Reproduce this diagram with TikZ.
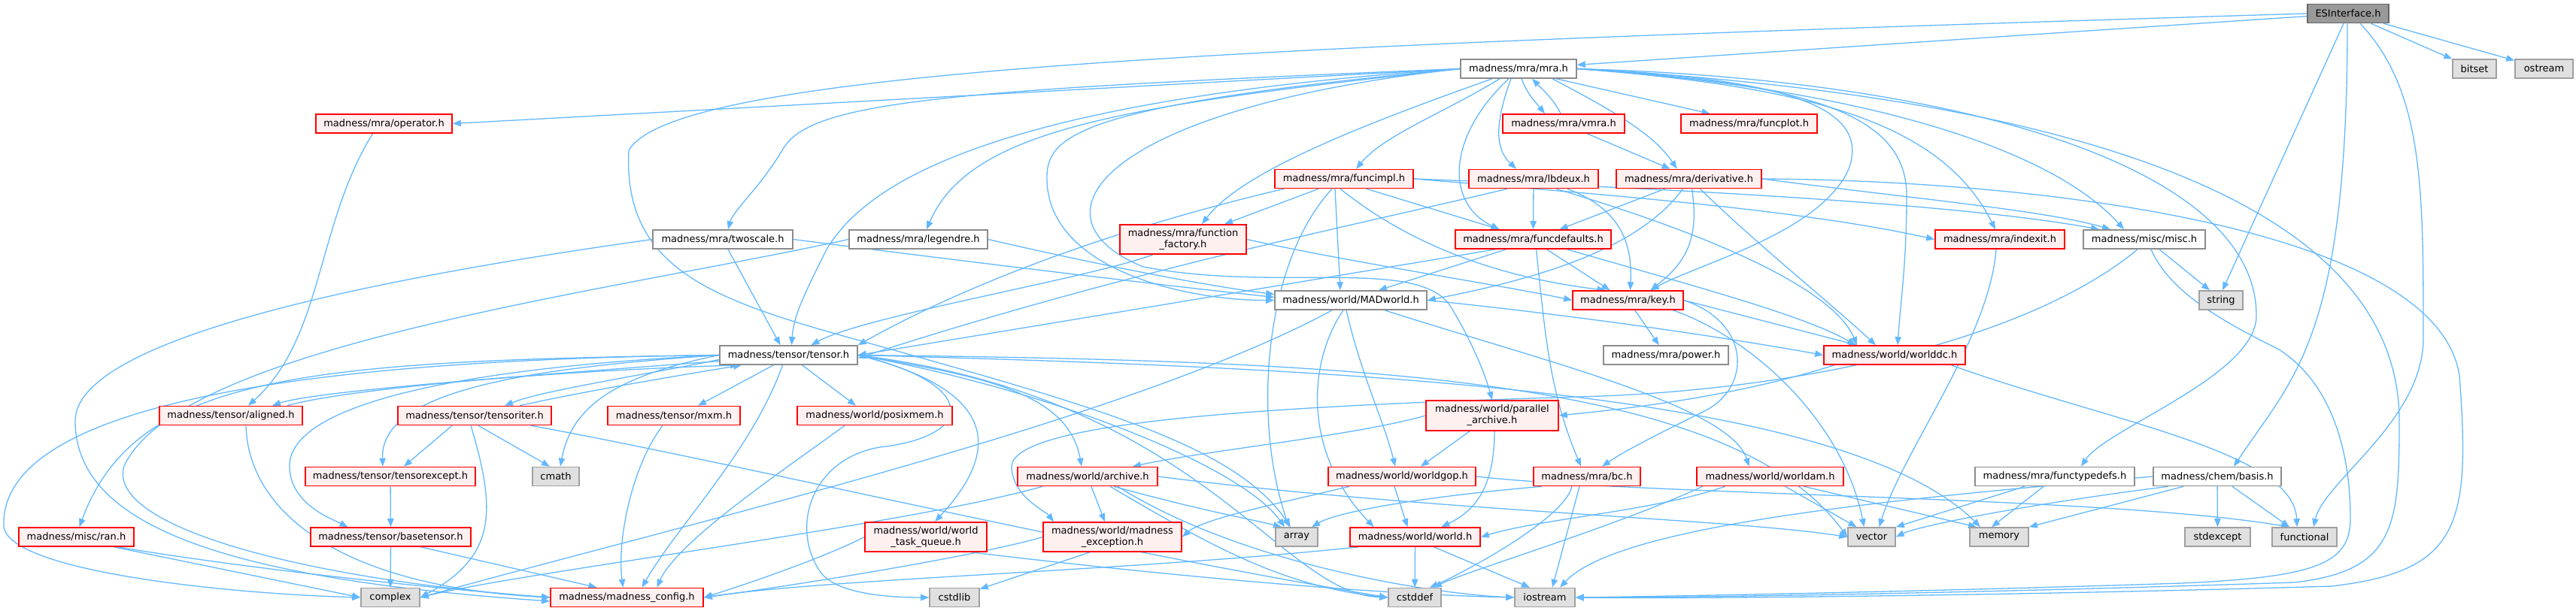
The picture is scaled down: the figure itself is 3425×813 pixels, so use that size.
\documentclass[tikz,border=0pt]{standalone}
\usepackage{fontspec}
\setmainfont{DejaVu Sans}
\usetikzlibrary{arrows.meta}
\pgfdeclarelayer{edgelayer}
\pgfsetlayers{edgelayer,main}
\definecolor{edgeblue}{RGB}{99,184,255}
\definecolor{redfill}{HTML}{FFF0F0}
\definecolor{grayfill}{HTML}{E0E0E0}
\definecolor{rootfill}{HTML}{999999}
\definecolor{graybord}{HTML}{8C8C8C}
\definecolor{rootbord}{HTML}{666666}
\definecolor{lightbord}{HTML}{A0A0A0}
\tikzset{
  box/.style={draw, rectangle, inner sep=0pt, minimum height=25pt, line width=1.6pt, align=center,
    font=\fontsize{13}{15}\selectfont},
  rbox/.style={box, draw=red, fill=redfill},
  wbox/.style={box, draw=graybord, fill=white},
  gbox/.style={box, draw=lightbord, fill=grayfill},
  root/.style={box, draw=rootbord, fill=rootfill},
  e/.style={draw=edgeblue, line width=1.3pt, -{Triangle[length=11pt,width=8.5pt]}},
}
\begin{document}
\begin{tikzpicture}[x=1pt,y=-1pt]
\useasboundingbox (0,0) rectangle (3425,813);
% ---------- nodes ----------
\node[root, minimum width=108] (ESI) at (3122,18) {ESInterface.h};
\node[wbox, minimum width=154] (mra) at (2019,91.5) {madness/mra/mra.h};
\node[gbox, minimum width=58] (bitset) at (3290,91.5) {bitset};
\node[gbox, minimum width=77] (ostream) at (3382.5,91.5) {ostream};
\node[rbox, minimum width=181] (operator) at (510.5,164.5) {madness/mra/operator.h};
\node[rbox, minimum width=162] (vmra) at (2079,164.5) {madness/mra/vmra.h};
\node[rbox, minimum width=181] (funcplot) at (2325.5,164.5) {madness/mra/funcplot.h};
\node[rbox, minimum width=184] (funcimpl) at (1787,238) {madness/mra/funcimpl.h};
\node[rbox, minimum width=172] (lbdeux) at (2039,238) {madness/mra/lbdeux.h};
\node[rbox, minimum width=193] (deriv) at (2245.5,238) {madness/mra/derivative.h};
\node[wbox, minimum width=186] (twoscale) at (961,318.5) {madness/mra/twoscale.h};
\node[wbox, minimum width=184] (legendre) at (1221,318.5) {madness/mra/legendre.h};
\node[rbox, minimum width=168, minimum height=39] (ffac) at (1573,318.5) {madness/mra/function\\\_factory.h};
\node[rbox, minimum width=207] (fdef) at (2038.5,318.5) {madness/mra/funcdefaults.h};
\node[rbox, minimum width=172] (indexit) at (2659,318.5) {madness/mra/indexit.h};
\node[wbox, minimum width=162] (misc) at (2851,318.5) {madness/misc/misc.h};
\node[wbox, minimum width=202] (madw) at (1796,399.5) {madness/world/MADworld.h};
\node[rbox, minimum width=147] (key) at (2164.5,399.5) {madness/mra/key.h};
\node[gbox, minimum width=58] (string) at (2953,399.5) {string};
\node[wbox, minimum width=183] (tensor) at (1048.5,472.5) {madness/tensor/tensor.h};
\node[wbox, minimum width=166] (power) at (2215,472.5) {madness/mra/power.h};
\node[rbox, minimum width=188] (worlddc) at (2519,472.5) {madness/world/worlddc.h};
\node[rbox, minimum width=190] (aligned) at (307,553) {madness/tensor/aligned.h};
\node[rbox, minimum width=204] (titer) at (631,553) {madness/tensor/tensoriter.h};
\node[rbox, minimum width=176] (mxm) at (896,553) {madness/tensor/mxm.h};
\node[rbox, minimum width=206] (posix) at (1163,553) {madness/world/posixmem.h};
\node[rbox, minimum width=176, minimum height=40] (parch) at (1984,553) {madness/world/parallel\\\_archive.h};
\node[rbox, minimum width=226] (texc) at (519,634) {madness/tensor/tensorexcept.h};
\node[gbox, minimum width=62] (cmath) at (739,634) {cmath};
\node[rbox, minimum width=186] (archive) at (1446,634) {madness/world/archive.h};
\node[rbox, minimum width=196] (wgop) at (1864,634) {madness/world/worldgop.h};
\node[rbox, minimum width=142] (bc) at (2110,634) {madness/mra/bc.h};
\node[rbox, minimum width=195] (worldam) at (2353.5,634) {madness/world/worldam.h};
\node[wbox, minimum width=212] (ftd) at (2732,634) {madness/mra/functypedefs.h};
\node[wbox, minimum width=170] (basis) at (2948,634) {madness/chem/basis.h};
\node[rbox, minimum width=153] (ran) at (101.5,714.5) {madness/misc/ran.h};
\node[rbox, minimum width=213] (btensor) at (519.5,714.5) {madness/tensor/basetensor.h};
\node[rbox, minimum width=162, minimum height=39] (wtq) at (1231,714.5) {madness/world/world\\\_task\_queue.h};
\node[rbox, minimum width=184, minimum height=39] (mexc) at (1479,714.5) {madness/world/madness\\\_exception.h};
\node[gbox, minimum width=56] (array) at (1724,714.5) {array};
\node[rbox, minimum width=173] (world) at (1881.5,714.5) {madness/world/world.h};
\node[gbox, minimum width=63] (vector) at (2488.5,714.5) {vector};
\node[gbox, minimum width=78] (memory) at (2658,714.5) {memory};
\node[gbox, minimum width=87] (stdexcept) at (2948.5,714.5) {stdexcept};
\node[gbox, minimum width=86] (functional) at (3064,714.5) {functional};
\node[gbox, minimum width=78] (complex) at (519,795) {complex};
\node[rbox, minimum width=203] (config) at (833.5,795) {madness/madness\_config.h};
\node[gbox, minimum width=66] (cstdlib) at (1269,795) {cstdlib};
\node[gbox, minimum width=70] (cstddef) at (1881,795) {cstddef};
\node[gbox, minimum width=80] (iostream) at (2054,795) {iostream};
% ---------- edges ----------
\begin{pgfonlayer}{edgelayer}
% ESInterface
\draw[e] (ESI) -- (mra);
\draw[e] (ESI) -- (bitset);
\draw[e] (ESI) -- (ostream);
\draw[e] ([xshift=-6]ESI.south) -- ([xshift=2]string.north);
\draw[e] (ESI.west) .. controls (1700,60) and (900,90) .. (836,200) .. controls (828,360) and (950,400) .. (1150,455) .. controls (1450,540) and (1640,590) .. ([xshift=-8]array.north);
\draw[e] ([xshift=-1]ESI.south) .. controls (3121,450) and (3050,500) .. ([xshift=22]basis.north);
\draw[e] ([xshift=16]ESI.south) .. controls (3222,120) and (3222,250) .. (3222,450) .. controls (3222,560) and (3090,640) .. ([xshift=12]functional.north);
% mra
\draw[e] (mra.west) -- (operator.east);
\draw[e] (mra.west) .. controls (1250,120) and (1075,135) .. (1040,200) .. controls (1010,250) and (975,280) .. ([xshift=7]twoscale.north);
\draw[e] (mra.west) .. controls (1500,140) and (1290,170) .. ([xshift=11]legendre.north);
\draw[e] (mra.west) .. controls (1300,135) and (1150,250) .. (1100,330) .. controls (1070,390) and (1055,420) .. ([xshift=4]tensor.north);
\draw[e] (mra.west) .. controls (1430,140) and (1390,180) .. (1392,240) .. controls (1395,360) and (1580,400) .. (madw.west);
\draw[e] (mra.west) .. controls (1460,145) and (1360,290) .. (1520,355) .. controls (1700,390) and (1890,340) .. (1930,410) .. controls (1960,460) and (1975,500) .. (parch.north);
\draw[e] ([xshift=-35]mra.south) .. controls (1800,170) and (1650,230) .. ([xshift=25]ffac.north);
\draw[e] ([xshift=-25]mra.south) .. controls (1920,150) and (1840,180) .. ([xshift=16]funcimpl.north);
\draw[e] ([xshift=-13]mra.south) .. controls (1925,180) and (1920,270) .. ([xshift=-45]fdef.north);
\draw[e] ([xshift=-10]mra.south) .. controls (1985,170) and (1990,200) .. ([xshift=-23]lbdeux.north);
\draw[e] ([xshift=4]mra.south) .. controls (2030,125) and (2045,140) .. ([xshift=-25]vmra.north);
\draw[e] ([xshift=-4]vmra.north) .. controls (2068,135) and (2050,118) .. ([xshift=18]mra.south);
\draw[e] ([xshift=45]mra.south) .. controls (2150,150) and (2200,180) .. ([xshift=-16]deriv.north);
\draw[e] ([xshift=50]mra.south) -- ([xshift=-52]funcplot.north);
\draw[e] (mra.east) .. controls (2400,105) and (2485,150) .. (2458,225) .. controls (2420,310) and (2260,350) .. ([xshift=30]key.north);
\draw[e] (mra.east) .. controls (2400,110) and (2535,150) .. (2535,260) .. controls (2535,350) and (2527,400) .. ([xshift=4]worlddc.north);
\draw[e] (mra.east) .. controls (2400,115) and (2580,160) .. ([xshift=-6]indexit.north);
\draw[e] (mra.east) .. controls (2450,115) and (2720,190) .. ([xshift=-27]misc.north);
\draw[e] (mra.east) .. controls (2600,105) and (3000,220) .. (3000,420) .. controls (3000,500) and (2800,570) .. ([xshift=35]ftd.north);
\draw[e] (mra.east) .. controls (2700,125) and (3190,250) .. (3190,560) .. controls (3190,700) and (3185,760) .. (3050,775) .. controls (2600,790) and (2250,795) .. (iostream.east);
\draw[e] (vmra) -- ([xshift=-25]deriv.north);
% funcimpl
\draw[e] ([xshift=-34]funcimpl.south) -- ([xshift=55]ffac.north);
\draw[e] ([xshift=-80]funcimpl.south) .. controls (1500,300) and (1300,370) .. (tensor.north east);
\draw[e] ([xshift=-16]funcimpl.south) .. controls (1680,350) and (1665,560) .. ([xshift=-10]array.north);
\draw[e] ([xshift=-12]funcimpl.south) -- ([xshift=-14]madw.north);
\draw[e] ([xshift=30]funcimpl.south) -- ([xshift=-45]fdef.north);
\draw[e] ([xshift=-5]funcimpl.south) .. controls (1880,330) and (2000,370) .. ([xshift=-30]key.north);
\draw[e] (funcimpl.east) .. controls (2150,260) and (2400,280) .. (indexit.west);
\draw[e] (funcimpl.east) .. controls (2200,250) and (2600,270) .. ([xshift=-60]misc.north);
% lbdeux
\draw[e] (lbdeux) -- (fdef);
\draw[e] ([xshift=45]lbdeux.south) .. controls (2160,280) and (2170,330) .. ([xshift=3]key.north);
\draw[e] ([xshift=-35]lbdeux.south) .. controls (1800,300) and (1500,360) .. ([yshift=-4]tensor.east);
\draw[e] ([xshift=30]lbdeux.south) .. controls (2300,320) and (2440,390) .. ([xshift=-50]worlddc.north);
% derivative
\draw[e] ([xshift=-32]deriv.south) -- ([xshift=35]fdef.north);
\draw[e] ([xshift=-8]deriv.south) .. controls (2180,330) and (2050,370) .. (madw.east);
\draw[e] ([xshift=4]deriv.south) .. controls (2260,320) and (2240,350) .. ([xshift=30]key.north);
\draw[e] ([xshift=15]deriv.south) .. controls (2330,320) and (2430,400) .. ([xshift=-25]worlddc.north);
\draw[e] (deriv.east) .. controls (2550,265) and (2720,280) .. ([xshift=-45]misc.north);
\draw[e] (deriv.east) .. controls (2700,240) and (3240,300) .. (3270,500) .. controls (3285,700) and (3270,760) .. (3100,780) .. controls (2700,792) and (2250,797) .. (iostream.east);
% funcdefaults
\draw[e] ([xshift=-36]fdef.south) -- ([xshift=37]madw.north);
\draw[e] ([xshift=-50]fdef.south) .. controls (1700,380) and (1400,430) .. (tensor.east);
\draw[e] ([xshift=18]fdef.south) -- ([xshift=-24]key.north);
\draw[e] ([xshift=4]fdef.south) .. controls (2055,450) and (2060,520) .. ([xshift=-8]bc.north);
\draw[e] ([xshift=45]fdef.south) .. controls (2250,380) and (2400,420) .. ([xshift=-52]worlddc.north);
% function_factory
\draw[e] (ffac.east) .. controls (1800,350) and (2000,380) .. (key.west);
\draw[e] ([xshift=-40]ffac.south) .. controls (1450,370) and (1150,420) .. ([xshift=30]tensor.north);
% twoscale, legendre
\draw[e] ([xshift=7]twoscale.south) -- ([xshift=-11]tensor.north);
\draw[e] (twoscale.east) .. controls (1300,350) and (1550,380) .. ([yshift=4]madw.west);
\draw[e] (twoscale.west) .. controls (500,370) and (100,450) .. (100,560) .. controls (100,700) and (300,770) .. ([yshift=-5]config.west);
\draw[e] (legendre.west) .. controls (800,390) and (240,460) .. (165,620) .. controls (140,700) and (400,770) .. (config.west);
\draw[e] (legendre.east) .. controls (1450,350) and (1600,380) .. ([yshift=8]madw.west);
% operator
\draw[e] ([xshift=-15]operator.south) .. controls (420,300) and (430,450) .. ([xshift=23]aligned.north);
% MADworld
\draw[e] (madw.east) .. controls (2100,420) and (2300,450) .. (worlddc.west);
\draw[e] ([xshift=-6]madw.south) .. controls (1810,500) and (1840,560) .. ([xshift=-9]wgop.north);
\draw[e] ([xshift=-10]madw.south) .. controls (1740,480) and (1730,600) .. ([xshift=-55]world.north);
\draw[e] ([xshift=45]madw.south) .. controls (2050,480) and (2300,540) .. ([xshift=-28]worldam.north);
\draw[e] ([xshift=-25]madw.south) .. controls (1500,560) and (900,700) .. (complex.east);
% tensor
\draw[e] ([yshift=-8]tensor.west) .. controls (700,500) and (420,520) .. ([xshift=55]aligned.north);
\draw[e] ([xshift=75]aligned.north) .. controls (450,520) and (700,495) .. ([xshift=26]tensor.south west);
\draw[e] ([yshift=-6]tensor.west) .. controls (850,500) and (720,520) .. ([xshift=40]titer.north);
\draw[e] ([xshift=60]titer.north) .. controls (780,520) and (900,500) .. ([xshift=30]tensor.south west);
\draw[e] ([xshift=-20]tensor.south) -- ([xshift=32]mxm.north);
\draw[e] ([xshift=18]tensor.south) -- ([xshift=-25]posix.north);
\draw[e] (tensor.west) .. controls (700,490) and (505,520) .. ([xshift=-10]texc.north);
\draw[e] (tensor.west) .. controls (600,490) and (385,540) .. (385,620) .. controls (385,670) and (440,690) .. ([xshift=-57]btensor.north);
\draw[e] (tensor.west) .. controls (820,500) and (760,540) .. ([xshift=6]cmath.north);
\draw[e] (tensor.west) .. controls (400,480) and (180,500) .. ([xshift=4]ran.north);
\draw[e] (tensor.west) .. controls (300,480) and (0,560) .. (5,700) .. controls (10,760) and (300,790) .. (complex.west);
\draw[e] ([xshift=-8]tensor.south) .. controls (1000,600) and (900,700) .. ([xshift=20]config.north);
\draw[e] (tensor.east) .. controls (1300,500) and (1420,520) .. ([xshift=-8]archive.north);
\draw[e] (tensor.east) .. controls (1400,520) and (1650,620) .. ([xshift=-16]array.north);
\draw[e] (tensor.east) .. controls (1300,510) and (1300,580) .. (1170,595) .. controls (1080,610) and (1050,700) .. (1090,760) .. controls (1110,790) and (1180,795) .. (cstdlib.west);
\draw[e] (tensor.east) .. controls (1330,520) and (1330,600) .. ([xshift=12]wtq.north);
\draw[e] (tensor.east) .. controls (1600,530) and (1700,790) .. (cstddef.west);
\draw[e] (tensor.east) .. controls (1800,480) and (2300,500) .. (vector.west);
\draw[e] (tensor.east) .. controls (1800,490) and (2450,520) .. ([xshift=-25]memory.north);
% aligned, tensoriter, mxm, posixmem
\draw[e] ([xshift=20]aligned.south) .. controls (330,680) and (450,780) .. (config.west);
\draw[e] ([xshift=-30]titer.south) -- ([xshift=18]texc.north);
\draw[e] ([xshift=5]titer.south) -- ([xshift=-8]cmath.north);
\draw[e] ([xshift=-5]titer.south) .. controls (660,680) and (660,740) .. (complex.east);
\draw[e] ([xshift=75]titer.south) .. controls (1000,620) and (1400,720) .. (cstddef.west);
\draw[e] ([xshift=-15]mxm.south) .. controls (840,620) and (820,720) .. ([xshift=-5]config.north);
\draw[e] ([xshift=-40]posix.south) .. controls (1050,620) and (900,720) .. ([xshift=40]config.north);
% tensorexcept, basetensor, ran
\draw[e] (texc) -- (btensor);
\draw[e] (btensor) -- (complex);
\draw[e] ([xshift=40]btensor.south) -- ([xshift=-40]config.north);
\draw[e] ([xshift=50]ran.south) -- (complex.west);
\draw[e] ([xshift=55]ran.south) .. controls (350,760) and (600,785) .. (config.west);
% parallel_archive
\draw[e] (parch.west) .. controls (1800,580) and (1600,600) .. ([xshift=60]archive.north);
\draw[e] ([xshift=-30]parch.south) -- ([xshift=25]wgop.north);
\draw[e] ([xshift=3]parch.south) .. controls (1987,650) and (1960,680) .. ([xshift=35]world.north);
% archive
\draw[e] ([xshift=5]archive.south) -- ([xshift=-10]mexc.north);
\draw[e] ([xshift=35]archive.south) .. controls (1600,680) and (1660,690) .. ([xshift=-20]array.north);
\draw[e] ([xshift=30]archive.south) .. controls (1600,720) and (1700,780) .. (cstddef.west);
\draw[e] ([xshift=-60]archive.south) .. controls (1200,700) and (700,760) .. (complex.east);
\draw[e] (archive.east) .. controls (1900,680) and (2300,690) .. (vector.west);
\draw[e] ([xshift=40]archive.south) .. controls (1650,750) and (1900,790) .. (iostream.west);
% worldgop
\draw[e] ([xshift=-10]wgop.south) -- ([xshift=-10]world.north);
\draw[e] ([xshift=-70]wgop.south) .. controls (1700,670) and (1600,690) .. (mexc.east);
\draw[e] (wgop.east) .. controls (2200,660) and (2800,660) .. ([xshift=-20]functional.north);
% bc
\draw[e] ([xshift=-60]bc.south) .. controls (1900,660) and (1780,680) .. ([xshift=20]array.north);
\draw[e] ([xshift=-20]bc.south) .. controls (2080,690) and (1950,760) .. ([xshift=20]cstddef.north);
\draw[e] ([xshift=-10]bc.south) -- ([xshift=10]iostream.north);
% world
\draw[e] (world) -- (cstddef);
\draw[e] ([xshift=25]world.south) -- ([xshift=-20]iostream.north);
\draw[e] ([xshift=-75]world.south) .. controls (1500,760) and (1100,770) .. (config.east);
% worldam
\draw[e] ([xshift=20]worldam.south) -- ([xshift=-20]vector.north);
\draw[e] ([xshift=45]worldam.south) -- ([xshift=-30]memory.north);
\draw[e] ([xshift=-60]worldam.south) .. controls (2200,680) and (2050,690) .. (world.east);
\draw[e] ([xshift=-90]worldam.south) .. controls (2150,700) and (1950,760) .. ([xshift=25]cstddef.north);
% world_task_queue, madness_exception
\draw[e] (wtq.west) .. controls (1100,740) and (1000,775) .. (config.east);
\draw[e] ([xshift=60]wtq.south) .. controls (1500,760) and (1800,790) .. (iostream.west);
\draw[e] ([xshift=-30]mexc.south) -- (cstdlib);
\draw[e] (mexc.west) .. controls (1300,740) and (1050,780) .. (config.east);
% misc
\draw[e] ([xshift=-9]misc.south) .. controls (2700,450) and (2400,520) .. (2100,528) .. controls (1700,540) and (1350,560) .. (1345,620) .. controls (1345,660) and (1390,680) .. ([xshift=-78]mexc.north);
\draw[e] ([xshift=9]misc.south) .. controls (2885,390) and (2960,430) .. (3030,465) .. controls (3100,510) and (3125,600) .. (3125,690) .. controls (3125,750) and (3080,768) .. (2900,776) .. controls (2600,786) and (2250,793) .. (iostream.east);
\draw[e] ([xshift=20]misc.south) -- ([xshift=-15]string.north);
% worlddc
\draw[e] ([xshift=-80]worlddc.south) .. controls (2300,530) and (2150,545) .. (parch.east);
\draw[e] ([xshift=75]worlddc.south) .. controls (2800,560) and (3050,600) .. ([xshift=-10]functional.north);
% key
\draw[e] (key) -- (power);
\draw[e] (key.east) -- ([xshift=-50]worlddc.north);
\draw[e] ([xshift=60]key.south) .. controls (2330,450) and (2450,560) .. ([xshift=-10]vector.north);
\draw[e] (key.east) .. controls (2330,430) and (2330,520) .. (2260,550) .. controls (2200,580) and (2160,600) .. ([xshift=20]bc.north);
% indexit, functypedefs, basis
\draw[e] ([xshift=-5]indexit.south) .. controls (2645,450) and (2530,600) .. ([xshift=10]vector.north);
\draw[e] ([xshift=-40]ftd.south) -- (vector.north east);
\draw[e] ([xshift=-15]ftd.south) -- ([xshift=-10]memory.north);
\draw[e] ([xshift=-65]basis.south) .. controls (2700,670) and (2550,700) .. (vector.east);
\draw[e] ([xshift=-45]basis.south) -- (memory.north east);
\draw[e] (basis) -- (stdexcept);
\draw[e] ([xshift=20]basis.south) -- ([xshift=-20]functional.north);
\draw[e] (basis.west) .. controls (2500,665) and (2150,700) .. ([xshift=20]iostream.north);
\end{pgfonlayer}
\end{tikzpicture}
\end{document}
